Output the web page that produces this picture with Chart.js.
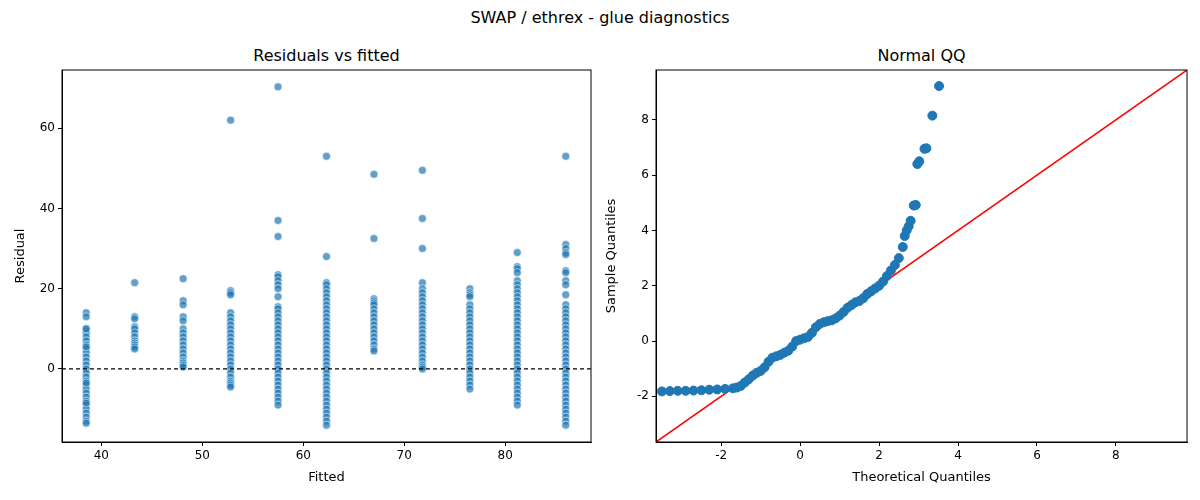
<!DOCTYPE html>
<html>
<head>
<meta charset="utf-8">
<script src="https://cdn.jsdelivr.net/npm/chart.js@4"></script>
<style>
  body { margin:0; background:#fff; font-family:"DejaVu Sans", sans-serif; }
  #wrap { position:relative; width:1200px; height:500px; }
  .t { position:absolute; font-size:16px; color:#000; text-align:center; }
  canvas { position:absolute; top:0; }
</style>
</head>
<body>
<div id="wrap">
  <div class="t" style="left:0;width:1200px;top:8px;">SWAP / ethrex - glue diagnostics</div>
  <div class="t" style="left:62px;width:529px;top:46px;">Residuals vs fitted</div>
  <div class="t" style="left:656px;width:531px;top:46px;">Normal QQ</div>
  <div style="position:absolute;left:0;top:0;width:600px;height:500px;"><canvas id="left"></canvas></div>
  <div style="position:absolute;left:600px;top:0;width:600px;height:500px;"><canvas id="right"></canvas></div>
</div>
<script>
// fitted groups and their residuals
var fittedLevels = [38.5, 43.3, 48.1, 52.8, 57.5, 62.3, 67.0, 71.8, 76.5, 81.2, 86.0];
var residualGroups = [
  [14,13,10,9.5,9,8,7,6,5,4,3,2,1,0,-1,-2,-3,-4,-5,-6,-7,-8,-9,-10,-11,-12,-13,-13.5,10,5.5,-3.5,-8.5],
  [21.5,13,12.5,10.5,10,9,8,7,6.5,6,5.5,5],
  [22.5,17,16,13,12,10,9,8,7,6,5,4,3,2,1.5,1,0.5],
  [62,19.5,19,18.5,14,13,12,11,10,9,8,7,6,5,4,3,2,1,0,-1,-2,-3,-3.5,-4,-4.5],
  [70.3,37,33,23.5,23,22,21,20,18,15.5,15,14,13,12,11,10,9,8,7,6,5,4,3,2,1,0,-1,-2,-3,-4,-5,-6,-7,-8,-9],
  [53,28,21.5,21,20,19,18,17,16,15,14,13,12,11,10,9,8,7,6,5,4,3,2,1,0,-1,-2,-3,-4,-5,-6,-7,-8,-9,-10,-11,-12,-13,-14],
  [48.5,32.5,17.5,17,16.5,16,15,14,13,12,11,10,9,8,7,6,5,4.5],
  [49.5,37.5,30,21.5,20,19,18,17,16,15,14,13,12,11,10,9,8,7,6,5,4,3,2,1,0.5,0],
  [20,19,18.5,18,16,15,14,13,12,11,10,9,8,7,6,5,4,3,2,1,0,-1,-2,-3,-4,-5],
  [29,25.5,25,24,22,21,20,19,18,17,16,15,14,13,12,11,10,9,8,7,6,5,4,3,2,1,0,-1,-2,-3,-4,-5,-6,-7,-8,-9],
  [53,31,30,29,28.5,24.5,24,22,21,18.5,16,15,14,13,12,11,10,9,8,7,6,5,4,3,2,1,0,-1,-2,-3,-4,-5,-6,-7,-8,-9,-10,-11,-12,-13,-14]
];
var leftXTicks = [40, 50, 60, 70, 80];
var leftYTicks = [0, 20, 40, 60];

// QQ points: theoretical vs sample quantiles
var qqTheoretical = [-3.5,-3.3,-3.1,-2.9,-2.7,-2.5,-2.3,-2.1,-1.9,-1.7,-1.6,-1.5,-1.4,-1.3,-1.2,-1.1,-1.0,-0.9,-0.8,-0.7,-0.6,-0.5,-0.4,-0.3,-0.2,-0.1,0.0,0.1,0.2,0.3,0.4,0.5,0.6,0.7,0.8,0.9,1.0,1.1,1.2,1.3,1.4,1.5,1.6,1.7,1.8,1.9,2.0,2.1,2.2,2.3,2.4,2.5,2.6,2.65,2.7,2.75,2.8,2.88,2.93,2.97,3.02,3.15,3.2,3.35,3.52];
var qqSample = [-1.82,-1.81,-1.8,-1.8,-1.79,-1.78,-1.76,-1.75,-1.73,-1.71,-1.68,-1.62,-1.5,-1.38,-1.25,-1.15,-1.08,-0.95,-0.75,-0.6,-0.55,-0.5,-0.42,-0.35,-0.2,0.0,0.05,0.1,0.15,0.3,0.5,0.62,0.68,0.72,0.75,0.82,0.92,1.05,1.2,1.3,1.4,1.45,1.55,1.7,1.8,1.9,2.0,2.15,2.35,2.55,2.75,3.0,3.4,3.8,4.0,4.15,4.35,4.9,4.92,6.4,6.5,6.95,6.97,8.15,9.22];
var qqTicks = [-2, 0, 2, 4, 6, 8];
var qqMin = -3.65, qqMax = 9.8;

var font = { family: "DejaVu Sans", size: 12 };
Chart.defaults.font = font;
Chart.defaults.color = "#000";

// full frame round the plot area
var frame = {
  id: "frame",
  afterDraw: function(chart) {
    var a = chart.chartArea, c = chart.ctx;
    c.save(); c.strokeStyle = "#000"; c.lineWidth = 1;
    c.strokeRect(a.left, a.top, a.right - a.left, a.bottom - a.top);
    c.restore();
  }
};

function axis(title, min, max, ticks, fitSize, isX) {
  return {
    type: "linear", min: min, max: max,
    title: { display: true, text: title, font: { family: "DejaVu Sans", size: 13 }, padding: 0 },
    grid: { display: true, drawOnChartArea: false, drawTicks: true, tickLength: 4, color: "#000" },
    border: { display: true, color: "#000" },
    ticks: { font: font, color: "#000", padding: 3 },
    afterBuildTicks: function(s) { s.ticks = ticks.map(function(v){ return { value: v }; }); },
    afterFit: function(s) { if (isX) s.height = fitSize; else s.width = fitSize; }
  };
}

var scatterPts = [];
for (var i = 0; i < fittedLevels.length; i++) {
  residualGroups[i].forEach(function(r){ scatterPts.push({ x: fittedLevels[i], y: r }); });
}

new Chart(document.getElementById("left"), {
  type: "scatter",
  data: { datasets: [
    { data: [{x: 36.1, y: 0}, {x: 88.5, y: 0}], type: "line", borderColor: "#000", borderWidth: 1.2,
      borderDash: [4, 3], pointRadius: 0 },
    { data: scatterPts, backgroundColor: "rgba(31,119,180,0.7)", borderColor: "rgba(255,255,255,0.8)",
      borderWidth: 0.7, pointRadius: 4 }
  ]},
  options: {
    responsive: true, maintainAspectRatio: false, animation: false,
    layout: { padding: { top: 70, right: 9, left: 13, bottom: 15 } },
    plugins: { legend: { display: false }, tooltip: { enabled: false } },
    scales: {
      x: axis("Fitted", 36.1, 88.5, leftXTicks, 43, true),
      y: axis("Residual", -18.2, 74.5, leftYTicks, 49, false)
    }
  },
  plugins: [frame]
});

var qqPts = qqTheoretical.map(function(t, i){ return { x: t, y: qqSample[i] }; });

new Chart(document.getElementById("right"), {
  type: "scatter",
  data: { datasets: [
    { data: qqPts, backgroundColor: "#1f77b4", borderColor: "#1f77b4", pointRadius: 4.5 },
    { data: [{x: qqMin, y: qqMin}, {x: qqMax, y: qqMax}], type: "line", borderColor: "#ff0000",
      borderWidth: 1.5, pointRadius: 0 }
  ]},
  options: {
    responsive: true, maintainAspectRatio: false, animation: false,
    layout: { padding: { top: 70, right: 13, left: 4, bottom: 15 } },
    plugins: { legend: { display: false }, tooltip: { enabled: false } },
    scales: {
      x: axis("Theoretical Quantiles", qqMin, qqMax, qqTicks, 43, true),
      y: axis("Sample Quantiles", qqMin, qqMax, qqTicks, 52, false)
    }
  },
  plugins: [frame]
});
</script>
</body>
</html>
